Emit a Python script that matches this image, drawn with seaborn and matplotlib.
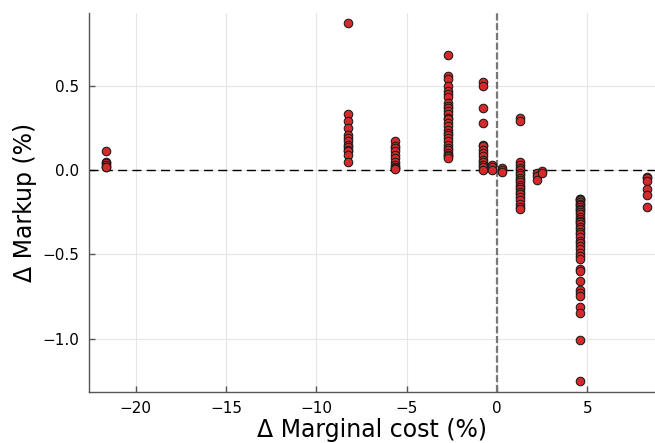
import matplotlib
matplotlib.use("Agg")
import matplotlib.pyplot as plt
import seaborn as sns
import pandas as pd

# Δ marginal cost (%) per product group and the Δ markup (%) observed
cost_a = -21.64
markup_a = [0.11, 0.05, 0.04, 0.03, 0.02, 0.015]
cost_b = -8.26
markup_b = [0.87, 0.33, 0.29, 0.25, 0.21, 0.19, 0.17, 0.15, 0.135, 0.12, 0.11, 0.09, 0.05]
cost_c = -5.64
markup_c = [0.17, 0.14, 0.13, 0.11, 0.09, 0.07, 0.05, 0.03, 0.02, 0.01, 0.005]
cost_d = -2.73
markup_d = [0.68, 0.56, 0.54, 0.50, 0.47, 0.45, 0.43, 0.40, 0.38, 0.37, 0.35, 0.33, 0.31,
            0.30, 0.28, 0.26, 0.24, 0.22, 0.21, 0.19, 0.17, 0.15, 0.13, 0.12, 0.10, 0.09,
            0.08, 0.07]
cost_e = -0.76
markup_e = [0.52, 0.50, 0.37, 0.28, 0.15, 0.14, 0.12, 0.10, 0.08, 0.06, 0.05, 0.03, 0.02, 0.0]
cost_f = -0.29
markup_f = [0.03, 0.02, 0.0]
cost_g = 0.26
markup_g = [0.01, 0.0, -0.01]
cost_h = 1.28
markup_h = [0.31, 0.29, 0.05, 0.03, 0.01, 0.0, -0.02, -0.03, -0.05, -0.06, -0.07, -0.09,
            -0.10, -0.11, -0.13, -0.14, -0.16, -0.18, -0.20, -0.22, -0.23]
cost_i = 2.2
markup_i = [-0.015, -0.035, -0.06]
cost_j = 2.47
markup_j = [-0.005, -0.02]
cost_k = 4.59
markup_k = [-0.17, -0.175, -0.18, -0.19, -0.20, -0.21, -0.22, -0.23, -0.24, -0.25, -0.26,
            -0.28, -0.29, -0.30, -0.31, -0.32, -0.34, -0.35, -0.37, -0.38, -0.40, -0.42,
            -0.43, -0.45, -0.47, -0.49, -0.51, -0.53, -0.59, -0.60, -0.66, -0.71, -0.73,
            -0.75, -0.81, -0.85, -1.01, -1.25]
cost_l = 8.3
markup_l = [-0.04, -0.05, -0.063, -0.11, -0.15, -0.22]

x_ticks = [-20, -15, -10, -5, 0, 5]
y_ticks = [-1.0, -0.5, 0.0, 0.5]

groups = [(cost_a, markup_a), (cost_b, markup_b), (cost_c, markup_c), (cost_d, markup_d),
          (cost_e, markup_e), (cost_f, markup_f), (cost_g, markup_g), (cost_h, markup_h),
          (cost_i, markup_i), (cost_j, markup_j), (cost_k, markup_k), (cost_l, markup_l)]
rows = []
for c, ms in groups:
    for m in ms:
        rows.append({"cost": c, "markup": m})
df = pd.DataFrame(rows)

sns.set_theme(style="white")
plt.rcParams["font.family"] = ["DejaVu Sans"]

fig = plt.figure(figsize=(6.55, 4.43), dpi=100)
ax = fig.add_axes([0.136, 0.116, 0.864, 0.854])

ax.grid(True, color="#e6e6e6", linewidth=0.8, zorder=0)
ax.set_axisbelow(True)
ax.axhline(0, color="black", linestyle=(0, (6.5, 3.8)), linewidth=1.0, zorder=1)
ax.axvline(0, color="#777777", linestyle=(0, (3.2, 1.2)), linewidth=1.6, zorder=1)

sns.scatterplot(data=df, x="cost", y="markup", ax=ax, color="#d42a2a",
                edgecolor="#1a1a1a", linewidth=0.75, s=38, zorder=3, legend=False)

ax.set_xlim(-22.58, 8.74)
ax.set_ylim(-1.314, 0.929)
ax.set_xticks(x_ticks)
ax.set_yticks(y_ticks)
ax.set_xticklabels([f"{t:d}".replace("-", "\u2212") for t in x_ticks])
ax.set_yticklabels([f"{t:.1f}".replace("-", "\u2212") for t in y_ticks])
ax.tick_params(direction="in", length=4, width=1, color="#555555", labelsize=11,
               labelcolor="black", pad=7, bottom=True, left=True)
for side in ["top", "right"]:
    ax.spines[side].set_visible(False)
for side in ["left", "bottom"]:
    ax.spines[side].set_color("#555555")
    ax.spines[side].set_linewidth(1.0)

ax.set_xlabel("\u0394 Marginal cost (%)", fontsize=17, labelpad=1, color="black")
ax.set_ylabel("\u0394 Markup (%)", fontsize=17, labelpad=4, color="black")

fig.savefig("out.png", dpi=100)
